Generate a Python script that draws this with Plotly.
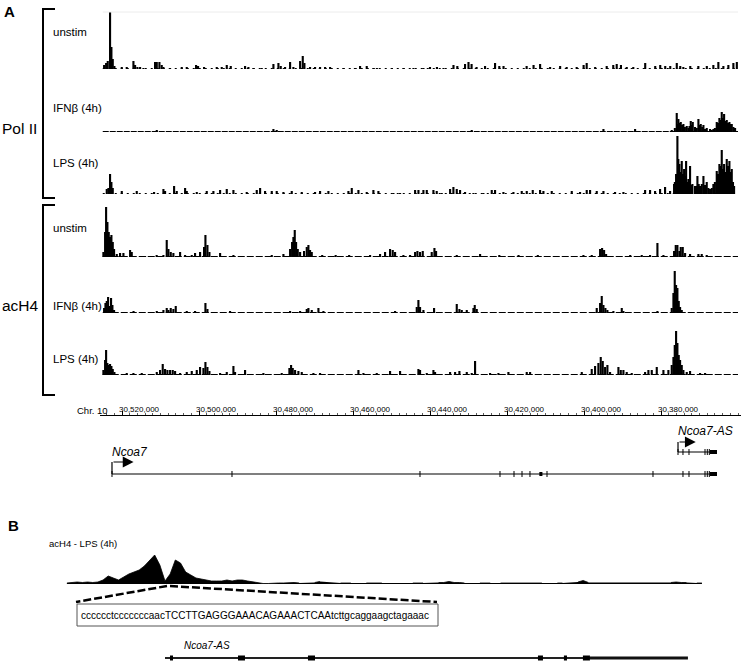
import plotly.graph_objects as go

W, H = 741, 665
FONT = "Liberation Sans, Arial, Helvetica, sans-serif"

# ---------------- data: panel A (positions = kb from left edge of window) ----------------
WINDOW_START_KB = 30525.0   # Chr10 30,525,000
WINDOW_END_KB = 30360.0     # Chr10 30,360,000

POL2_UNSTIM_POS = [0.35, 0.87, 1.30, 1.90, 2.25, 2.60, 3.03, 4.94, 6.23, 7.97, 8.40, 9.00, 9.70, 10.56,
                   13.59, 14.03, 14.72, 15.32, 15.76, 17.49, 20.52, 21.82, 24.24, 24.76, 26.32, 29.61,
                   30.91, 32.21, 33.25, 36.97, 37.84, 39.13, 41.30, 44.33, 45.63, 46.23, 47.36, 48.66,
                   49.52, 51.26, 51.95, 52.38, 53.85, 55.15, 56.45, 57.75, 59.05, 62.5, 65.5, 66.84,
                   68.57, 70.3, 71.2, 75.1, 78.1, 80.7, 83.3, 85.0, 86.8, 88.5, 91.1, 92.1, 94.1, 95.0,
                   95.8, 97.1, 99.3, 101.9, 103.0, 104.1, 110.1, 111.9, 113.6, 116.2, 118.8, 120.5,
                   123.1, 124.9, 125.7, 127.9, 130.9, 132.6, 133.5, 134.6, 136.1, 137.8, 140.9, 143.5,
                   144.8, 146.1, 147.4, 149.1, 150.0, 150.8, 152.6, 154.7, 156.9, 158.6, 159.9, 161.2,
                   162.5, 163.8, 164.7]
POL2_UNSTIM_VAL = [4, 6, 8, 57, 22, 10, 3, 2, 2, 8, 4, 2, 2, 1,
                   7, 7, 7, 4, 2, 1, 2, 2, 4, 3, 2, 2,
                   2, 4, 3, 3, 2, 1, 1, 5, 6, 3, 2, 7,
                   2, 8, 13, 6, 2, 2, 2, 2, 2, 1, 1, 3,
                   3, 1, 1, 1, 1, 1, 1, 2, 2, 1, 4, 3, 5, 7,
                   5, 2, 3, 6, 3, 3, 3, 4, 5, 2, 3, 2,
                   2, 4, 6, 2, 3, 4, 5, 4, 2, 2, 6, 3,
                   4, 3, 3, 6, 3, 2, 3, 3, 3, 4, 7, 3,
                   4, 6, 7]

POL2_IFNB_POS = [14.03, 44.33, 45.19, 95.84, 130.05, 138.27, 147.8, 148.6, 149.09, 149.3, 149.52, 149.8,
                 150.13, 150.5, 150.82, 151.2, 151.69, 152.12, 152.4, 152.73, 153.0, 153.25, 153.85,
                 154.3, 154.72, 155.0, 155.32, 155.7, 156.02, 156.45, 156.88, 157.75, 158.2, 158.61,
                 159.0, 159.48, 159.8, 160.17, 160.5, 160.78, 161.1, 161.39, 161.75, 162.08, 162.4,
                 162.77, 163.0, 163.38, 163.8, 164.24]
POL2_IFNB_VAL = [2, 3, 2, 2, 3, 3, 2, 4, 19, 8, 13, 9,
                 10, 7, 8, 5, 6, 4, 6, 11, 7, 10, 5,
                 4, 13, 7, 8, 5, 7, 3, 4, 3, 2, 3,
                 4, 10, 9, 14, 12, 20, 14, 18, 11, 12, 9,
                 10, 8, 8, 5, 4]

POL2_LPS_POS = [1.04, 1.47, 1.90, 2.25, 2.60, 4.94, 8.83, 13.33, 15.76, 16.19, 18.53, 19.22, 21.39,
                21.82, 24.42, 27.01, 28.74, 30.48, 32.21, 33.94, 37.40, 40.00, 40.87, 42.16, 43.90,
                45.19, 46.93, 49.09, 51.69, 55.15, 56.45, 58.61, 63.81, 64.68, 66.41, 68.57,
                70.30, 71.60, 75.50, 77.23, 81.13, 82.00, 83.29, 84.16, 85.89, 86.75, 88.05, 90.22,
                91.08, 91.95, 92.81, 94.11, 96.28, 98.87, 101.04, 101.90, 104.07, 106.67, 108.83,
                110.13, 111.69, 113.59, 114.46, 116.62, 121.82, 123.98, 125.71, 126.58, 128.31,
                130.05, 133.07, 135.24, 140.87, 142.16, 143.46, 144.76, 146.06, 147.36, 148.40,
                148.6, 148.92, 149.26, 149.5, 149.78, 150.1, 150.39, 150.7, 151.00, 151.3, 151.52,
                151.8, 152.12, 152.35, 152.55, 152.85, 153.16, 153.85, 154.1, 154.46, 154.8, 155.15,
                155.35, 155.6, 156.02, 156.45, 156.88, 157.3, 157.75, 158.2, 158.61, 159.0, 159.48,
                159.8, 160.17, 160.5, 160.78, 161.1, 161.39, 161.7, 162.08, 162.4, 162.77, 163.05,
                163.38, 163.7, 163.98]
POL2_LPS_VAL = [5, 6, 20, 12, 6, 3, 3, 2, 5, 3, 8, 3, 6,
                3, 2, 3, 3, 4, 5, 4, 2, 4, 6, 3, 3,
                3, 2, 3, 2, 2, 3, 3, 3, 6, 4, 2,
                4, 3, 1, 1, 4, 4, 4, 4, 4, 3, 1, 5,
                7, 5, 4, 2, 1, 1, 4, 4, 2, 2, 3,
                3, 4, 4, 3, 3, 3, 2, 4, 4, 3,
                3, 2, 2, 4, 4, 3, 5, 7, 3, 10,
                12, 20, 58, 35, 30, 22, 33, 20, 25, 18, 33,
                12, 15, 14, 28, 9, 10, 8, 8, 18, 10, 8,
                7, 10, 18, 9, 12, 6, 5, 6, 10, 12, 23,
                20, 30, 28, 44, 25, 30, 22, 35, 28, 33, 22,
                25, 12, 8]

ACH4_UNSTIM_POS = [0.17, 0.61, 0.87, 1.21, 1.56, 1.90, 2.25, 2.60, 2.94, 3.64, 4.50, 5.37, 7.10, 7.53,
                   11.0, 13.0, 14.0, 15.76, 16.62, 17.06, 17.66, 18.35, 20.09, 21.39, 23.12, 23.98,
                   25.28, 26.32, 26.67, 27.19, 27.71, 30.48, 33.94, 43.90, 46.93, 48.66, 49.18, 49.52,
                   49.87, 50.22, 50.65, 51.26, 52.29, 52.99, 53.42, 53.85, 54.29, 57.0, 60.5, 64.0,
                   69.44, 72.03, 73.33, 74.63, 75.32, 75.93, 78.09, 79.83, 81.13, 81.73, 82.42, 83.12,
                   85.45, 86.15, 86.58, 91.95, 98.01, 103.0, 108.0, 113.0, 124.85, 127.01, 129.18,
                   129.70, 130.22, 130.74, 137.0, 140.0, 142.16, 144.07, 145.63, 148.40, 148.83,
                   149.26, 149.78, 150.13, 150.65, 151.26, 152.55, 154.72, 155.58, 156.88]
ACH4_UNSTIM_VAL = [5, 25, 50, 35, 25, 20, 22, 15, 8, 3, 4, 4, 7, 5,
                   1, 1, 2, 2, 17, 8, 5, 4, 5, 2, 2, 4,
                   5, 10, 22, 12, 5, 4, 2, 2, 3, 8, 15, 20,
                   27, 15, 8, 5, 6, 10, 12, 7, 5, 2, 2, 2,
                   2, 3, 5, 8, 7, 5, 2, 2, 5, 6, 5, 6,
                   5, 9, 6, 2, 3, 2, 2, 2, 2, 2, 8,
                   9, 7, 3, 2, 2, 2, 14, 2, 6, 12,
                   12, 6, 10, 10, 4, 3, 3, 3, 2]

ACH4_IFNB_POS = [0.35, 0.70, 1.04, 1.39, 1.73, 2.16, 2.51, 2.94, 8.0, 14.03, 15.76, 16.62, 17.06,
                 17.66, 18.35, 18.96, 21.82, 23.98, 26.67, 27.19, 33.07, 48.66, 51.26, 52.99, 53.42,
                 54.29, 56.02, 57.32, 75.93, 81.56, 81.99, 82.42, 83.29, 86.06, 91.95, 92.64, 93.25,
                 94.55, 96.28, 96.62, 97.14, 128.31, 129.18, 129.61, 130.05, 130.56, 131.08, 132.64,
                 134.81, 135.24, 144.07, 147.79, 148.23, 148.57, 148.92, 149.26, 149.61, 149.96,
                 150.39]
ACH4_IFNB_VAL = [5, 10, 12, 16, 7, 15, 8, 3, 2, 2, 3, 5, 3,
                 5, 4, 7, 2, 2, 10, 4, 2, 2, 2, 4, 5,
                 3, 5, 2, 2, 6, 13, 6, 3, 5, 9, 4, 3,
                 3, 5, 8, 4, 5, 10, 17, 8, 5, 3, 2,
                 5, 2, 2, 5, 20, 42, 28, 25, 12, 6,
                 3]

ACH4_LPS_POS = [0.17, 0.61, 0.87, 1.21, 1.56, 1.90, 2.25, 2.60, 3.03, 6.23, 7.97, 10.13, 14.03, 14.89,
                15.58, 16.19, 16.80, 17.49, 18.18, 18.79, 20.09, 21.82, 23.12, 24.42, 25.28, 26.15,
                26.67, 27.19, 27.71, 30.48, 32.21, 33.94, 34.37, 36.97, 41.73, 46.49, 48.48, 48.92,
                49.35, 49.96, 50.82, 51.69, 54.72, 56.45, 66.41, 67.71, 71.17, 74.63, 77.23, 81.99,
                82.42, 84.16, 85.89, 86.32, 90.22, 91.52, 92.64, 94.55, 95.84, 96.71, 100.61, 102.77,
                105.37, 110.13, 111.00, 124.42, 127.01, 127.88, 128.74, 129.35, 129.87, 130.48,
                131.08, 131.77, 133.94, 134.55, 135.24, 136.10, 137.40, 140.87, 141.73, 142.60,
                143.90, 145.63, 146.92, 147.79, 148.23, 148.57, 148.92, 149.26, 149.61, 149.96,
                150.39, 150.82, 151.69, 152.55, 155.15, 156.45]
ACH4_LPS_VAL = [5, 15, 25, 12, 10, 11, 9, 6, 3, 2, 2, 2, 3, 5,
                11, 6, 5, 5, 5, 4, 2, 3, 4, 5, 8, 7,
                13, 8, 4, 2, 3, 9, 3, 5, 2, 2, 7, 10,
                7, 5, 4, 3, 2, 2, 5, 2, 2, 4, 4, 6,
                5, 2, 5, 3, 3, 3, 4, 3, 2, 14, 2, 2,
                3, 3, 3, 3, 6, 9, 12, 18, 14, 8,
                10, 3, 8, 5, 5, 3, 2, 3, 5, 5,
                8, 5, 5, 10, 18, 30, 44, 32, 20, 15,
                10, 5, 3, 4, 2, 2]

TRACK_LABELS = ["unstim", "IFNβ (4h)", "LPS (4h)", "unstim", "IFNβ (4h)", "LPS (4h)"]
GROUP_LABELS = ["Pol II", "acH4"]

# ruler ticks (kb)
RULER_TICKS_KB = [30520, 30500, 30480, 30460, 30440, 30420, 30400, 30380]
RULER_TICK_LABELS = ["30,520,000", "30,500,000", "30,480,000", "30,460,000",
                     "30,440,000", "30,420,000", "30,400,000", "30,380,000"]

# gene models (genomic kb)
NCOA7_START, NCOA7_END = 30522.60, 30365.45
NCOA7_EXON_TICKS = [30522.60, 30491.43, 30442.60, 30421.82, 30418.18, 30416.10, 30414.03,
                    30409.61, 30382.08, 30374.29, 30372.73, 30368.57, 30367.97, 30367.45]
NCOA7_BLOCKS = [(30411.6, 30410.8), (30367.3, 30365.45)]
NCOA7AS_START, NCOA7AS_END = 30375.58, 30365.45
NCOA7AS_EXON_TICKS = [30375.58, 30374.29, 30372.73, 30368.57, 30367.97, 30367.45]
NCOA7AS_BLOCKS = [(30367.3, 30365.45)]

# ---------------- data: panel B (kb from Ncoa7-AS TSS) ----------------
B_START_KB, B_STEP_KB = -1.9, 0.1
B_SIGNAL = [1, 1.5, 2, 1.5, 2, 1.5, 2,
            4, 8, 6, 4, 7, 10, 12, 14, 18, 24, 29, 19, 3,
            10, 24, 21, 12, 9, 6, 5, 4, 3, 3, 3, 4, 3, 4, 4, 3, 2, 1,
            0.5, 0.5, 1, 1, 1, 1.5, 1.5, 1,
            None, None, 1.5, 2.5, None, None, None, 1, 1, 1, None, None, 1, 1, 1, 1,
            None, None, None, None, None, 1, 1, 1, None, None,
            1.5, 1.5, 2.5, 1.5, 1.5, 1, None, None, 1, 1, 1, None,
            1, 1, 1.5, 1.5, 1.5, 1, 1, 1, 1, None, None, 1, 1, None, None,
            2, 3.5, 1.5,
            None, None, None, None, None, None, None, None, None, None, None, None, None, None, None,
            1.5, 2, 1.5, 1.5, None, 1, 1]
B_GENE_START, B_GENE_END = 0.0, 10.129
B_GENE_UTR_START = 8.231
B_EXONS = [(0.097, 0.155), (1.414, 1.549), (2.769, 2.905), (7.224, 7.321), (7.727, 7.786), (8.095, 8.231)]
SEQUENCE = "cccccctcccccccaacTCCTTGAGGGAAACAGAAACTCAAtcttgcaggaagctagaaac"


# ---------------- helpers (pixel layout -> paper) ----------------
def X(p):
    return p / W


def Y(p):
    return 1 - p / H


fig = go.Figure()

tracks = [
    (POL2_UNSTIM_POS, POL2_UNSTIM_VAL, 69, "2px,4px"),
    (POL2_IFNB_POS, POL2_IFNB_VAL, 132, "6px,1px"),
    (POL2_LPS_POS, POL2_LPS_VAL, 194, "2px,4px"),
    (ACH4_UNSTIM_POS, ACH4_UNSTIM_VAL, 257, "7px,2px"),
    (ACH4_IFNB_POS, ACH4_IFNB_VAL, 313, "7px,2px"),
    (ACH4_LPS_POS, ACH4_LPS_VAL, 375, "7px,2px"),
]
TRACK_H = 60
layout_axes = {}
for i, (pos, val, base, dash) in enumerate(tracks):
    n = i + 1
    yname = "y" if n == 1 else f"y{n}"
    gx = [WINDOW_START_KB - p for p in pos]
    fig.add_trace(go.Scatter(x=[WINDOW_START_KB, WINDOW_END_KB], y=[0.5, 0.5], mode="lines",
                             line=dict(color="black", width=1, dash=dash),
                             xaxis="x", yaxis=yname, hoverinfo="skip"))
    fig.add_trace(go.Bar(x=gx, y=val, width=0.55, marker=dict(color="black", line=dict(width=0)),
                         xaxis="x", yaxis=yname, hoverinfo="skip"))
    key = "yaxis" if n == 1 else f"yaxis{n}"
    layout_axes[key] = dict(domain=[Y(base), Y(base - TRACK_H)], range=[0, TRACK_H],
                            visible=False, fixedrange=True)

# panel B signal
b_x = [B_START_KB + B_STEP_KB * k for k in range(len(B_SIGNAL))]
fig.add_trace(go.Scatter(x=b_x, y=B_SIGNAL, mode="lines", fill="tozeroy", fillcolor="black",
                         line=dict(color="black", width=0.8), connectgaps=False,
                         xaxis="x2", yaxis="y7", hoverinfo="skip"))
layout_axes["yaxis7"] = dict(domain=[Y(584), Y(544)], range=[0, 40], visible=False)

# A axis range: pixel 100 .. 741
A_RANGE = [30525.714, 30359.22]
B_RANGE = [-3.196, 11.157]

minor_vals = [30524 - 2 * k for k in range(83)]

fig.update_layout(
    width=W, height=H, margin=dict(l=0, r=0, t=0, b=0),
    paper_bgcolor="white", plot_bgcolor="rgba(0,0,0,0)", showlegend=False,
    barmode="overlay",
    font=dict(family=FONT, color="black"),
    xaxis=dict(domain=[X(100), 1], range=A_RANGE, anchor="free", position=Y(415),
               side="top", showline=True, linecolor="black", linewidth=1,
               showgrid=False, zeroline=False,
               tickmode="array", tickvals=RULER_TICKS_KB, ticktext=RULER_TICK_LABELS,
               ticks="outside", ticklen=4, tickwidth=1, tickcolor="black",
               ticklabelposition="outside right", ticklabelshift=4,
               tickfont=dict(size=8, family=FONT, color="black"),
               minor=dict(tickmode="array", tickvals=minor_vals, ticks="outside", ticklen=2,
                          tickwidth=0.8, tickcolor="#333"),
               fixedrange=True),
    xaxis2=dict(domain=[0, 1], range=B_RANGE, anchor="y7", visible=False),
    **layout_axes,
)

shapes = []
# faint top border of first track
shapes.append(dict(type="line", xref="x", yref="paper", x0=WINDOW_START_KB, x1=WINDOW_END_KB,
                   y0=Y(12), y1=Y(12), line=dict(color="#ececec", width=1)))

# brackets
for top, bot in [(9, 198), (205, 395)]:
    path = f"M {X(55)},{Y(top)} L {X(43)},{Y(top)} L {X(43)},{Y(bot)} L {X(55)},{Y(bot)}"
    shapes.append(dict(type="path", xref="paper", yref="paper", path=path,
                       line=dict(color="black", width=2)))


def gene(start, end, ticks, blocks, ypix, stem):
    out = [dict(type="line", xref="x", yref="paper", x0=start, x1=end, y0=Y(ypix), y1=Y(ypix),
                line=dict(color="black", width=1.2))]
    for t in ticks:
        out.append(dict(type="line", xref="x", yref="paper", x0=t, x1=t, y0=Y(ypix - 3),
                        y1=Y(ypix + 3), line=dict(color="black", width=1)))
    for a, b in blocks:
        out.append(dict(type="rect", xref="x", yref="paper", x0=a, x1=b, y0=Y(ypix - 2),
                        y1=Y(ypix + 2), line=dict(width=0), fillcolor="black"))
    # TSS arrow stem
    out.append(dict(type="line", xref="x", yref="paper", x0=start, x1=start, y0=Y(ypix),
                    y1=Y(ypix - stem), line=dict(color="black", width=1.2)))
    return out


shapes += gene(NCOA7_START, NCOA7_END, NCOA7_EXON_TICKS, NCOA7_BLOCKS, 474, 12)
shapes += gene(NCOA7AS_START, NCOA7AS_END, NCOA7AS_EXON_TICKS, NCOA7AS_BLOCKS, 452, 10)

# panel B gene
shapes.append(dict(type="line", xref="x2", yref="paper", x0=B_GENE_START, x1=B_GENE_UTR_START,
                   y0=Y(658), y1=Y(658), line=dict(color="#222", width=1.8)))
shapes.append(dict(type="line", xref="x2", yref="paper", x0=B_GENE_UTR_START, x1=B_GENE_END,
                   y0=Y(658), y1=Y(658), line=dict(color="#111", width=3)))
for a, b in B_EXONS:
    shapes.append(dict(type="rect", xref="x2", yref="paper", x0=a, x1=b, y0=Y(655.5), y1=Y(660.5),
                       line=dict(width=0), fillcolor="black"))

# zoom dashed lines
shapes.append(dict(type="line", xref="paper", yref="paper", x0=X(167), y0=Y(586), x1=X(76), y1=Y(602),
                   line=dict(color="black", width=2.5, dash="8px,3px")))
shapes.append(dict(type="line", xref="paper", yref="paper", x0=X(170), y0=Y(586), x1=X(437), y1=Y(602),
                   line=dict(color="black", width=2.5, dash="8px,3px")))
# sequence box
shapes.append(dict(type="rect", xref="paper", yref="paper", x0=X(77), x1=X(438), y0=Y(626), y1=Y(604),
                   line=dict(color="#555", width=1), fillcolor="white"))

fig.update_layout(shapes=shapes)

ann = []


def txt(text, xp, yp, size, bold=False, italic=False, anchor="left"):
    t = f"<b>{text}</b>" if bold else text
    t = f"<i>{t}</i>" if italic else t
    ann.append(dict(text=t, xref="paper", yref="paper", x=X(xp), y=Y(yp), xanchor=anchor,
                    yanchor="middle", showarrow=False, font=dict(size=size, family=FONT, color="black")))


txt("A", 2, 12, 15, bold=True)
txt("B", 6, 525, 15, bold=True)
for lab, yp in zip(TRACK_LABELS, [32, 108, 163, 228, 306, 359]):
    txt(lab, 51, yp, 11.5)
txt(GROUP_LABELS[0], 0, 128, 15.5)
txt(GROUP_LABELS[1], 0, 305, 15.5)
txt("Chr. 10", 75, 410, 9.5)
txt("Ncoa7", 110, 452, 12, italic=True)
txt("Ncoa7-AS", 676, 431, 12, italic=True)
txt("acH4 - LPS (4h)", 47, 543, 9.5)
txt("Ncoa7-AS", 182, 645, 10, italic=True)
txt(SEQUENCE, 254.5, 615, 10, anchor="center")

# TSS arrows
for start, ypix, length_kb in [(NCOA7_START, 462, 5.6), (NCOA7AS_START, 442, 4.6)]:
    ann.append(dict(x=start - length_kb, y=Y(ypix), xref="x", yref="paper",
                    ax=start, ay=0, axref="x", ayref="pixel", showarrow=True,
                    arrowhead=2, arrowsize=1.8, arrowwidth=1.2, arrowcolor="black",
                    standoff=0, text=""))

fig.update_layout(annotations=ann)

fig.write_html("out.html",
               config={"displayModeBar": False, "staticPlot": True},
               post_script="document.body.style.margin='0';document.body.style.padding='0';"
                           "document.body.style.overflow='hidden';")
